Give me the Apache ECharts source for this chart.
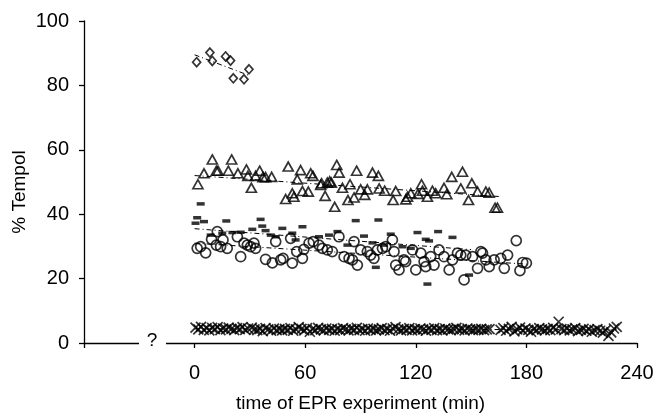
<!DOCTYPE html>
<html><head><meta charset="utf-8">
<script src="https://cdn.jsdelivr.net/npm/echarts@6/dist/echarts.min.js"></script>
<style>html,body{margin:0;padding:0;background:#fff}#c{width:655px;height:415px}</style>
</head><body><div id="c"></div>
<script>
const xTicks = [0, 60, 120, 180, 240];
const yTicks = [0, 20, 40, 60, 80, 100];
const xAxisTitle = 'time of EPR experiment (min)';
const yAxisTitle = '% Tempol';

const diamonds = [[1.1,87.2],[8.3,90.2],[9.6,87.6],[16.8,89.0],[19.5,87.7],[21,82.2],[26.8,81.9],[29.5,85.0]];

const triangles = [[1.8,49.3],[5.1,52.7],[9.6,57.0],[11.8,53.5],[12.7,53.5],[18.3,53.5],[20.1,57.0],[23.5,52.7],[28.1,53.9],[28.9,51.9],[30.8,48.2],[33.1,51.9],[35.3,53.5],[37.1,51.5],[38.5,51.5],[41.8,51.6],[49.4,44.7],[50.8,54.8],[53.0,46.5],[53.9,45.4],[55.7,50.8],[57.5,53.7],[58.5,47.2],[61.7,47.0],[63.0,52.7],[64.2,51.9],[68.4,49.1],[68.9,49.6],[70.8,45.7],[72.0,49.8],[73.3,50.2],[74.2,49.8],[76.0,42.3],[77.1,55.3],[78.4,52.9],[80.2,48.2],[83.2,44.4],[84.3,49.3],[86.5,45.2],[87.9,53.5],[90.1,47.7],[92.3,46.0],[93.7,47.7],[96.5,52.9],[99.7,51.9],[100.1,48.0],[103.1,47.3],[107.7,44.4],[109.1,47.2],[114.6,44.6],[115.5,45.4],[117.3,46.5],[121.2,46.3],[123.1,49.3],[123.6,47.3],[126.3,45.4],[129.0,47.3],[130.8,46.5],[135.3,48.2],[136.8,46.2],[139.5,51.6],[144.4,48.0],[145.3,53.2],[148.6,44.4],[150.4,49.6],[153.5,47.0],[158.0,47.0],[159.8,46.7],[163.0,42.0],[164.3,42.0]];

const circles = [[1.4,29.4],[3.3,29.9],[6.0,28.0],[9.2,32.2],[11.8,30.4],[12.3,34.6],[14.1,29.9],[15.4,32.0],[17.7,29.4],[23.2,33.0],[25.0,26.8],[26.8,31.0],[28.6,30.4],[30.4,29.9],[32.2,31.0],[33.1,29.4],[38.5,26.0],[42.2,24.9],[44.0,31.5],[46.7,25.8],[48.0,26.3],[52.1,32.5],[53.0,24.8],[55.4,28.4],[58.5,26.3],[59.3,29.1],[62.1,31.0],[64.4,31.5],[67.5,30.4],[69.3,29.4],[72.0,28.9],[74.7,28.4],[78.3,33.0],[81.1,26.8],[83.8,26.3],[85.6,25.8],[86.5,31.5],[88.3,24.2],[90.1,28.9],[93.7,28.4],[95.5,27.3],[97.3,26.3],[99.2,28.9],[101.9,29.4],[103.7,29.9],[107.3,32.0],[108.2,28.4],[109.1,24.2],[110.9,22.7],[113.6,25.8],[114.5,25.3],[118.2,28.9],[120.0,22.7],[122.7,27.9],[124.5,25.3],[125.4,23.7],[128.1,26.8],[129.9,24.2],[132.6,28.9],[135.3,26.8],[138.1,22.7],[139.9,25.8],[142.6,27.9],[144.4,27.3],[146.2,19.6],[147.1,27.3],[150.8,26.8],[153.5,23.2],[155.3,28.4],[156.2,27.9],[158.0,25.8],[159.8,23.7],[162.5,25.8],[166.1,26.3],[168.0,23.2],[169.8,27.3],[174.5,31.8],[176.5,22.5],[178.0,25.0],[180.0,24.8]];

const dashes = [[0.5,37.2],[1.4,38.9],[3.3,43.2],[5.1,37.7],[8.7,33.5],[15,34.1],[17.2,37.9],[20.5,34.3],[25,34.4],[31.3,35.3],[35.8,38.4],[36.7,36.3],[38.5,34.9],[41.3,33.5],[44,33.0],[47.6,35.6],[53,34.1],[54.8,32.0],[58.5,36.1],[67.5,33.0],[72.9,33.5],[77.5,34.6],[82.9,30.4],[87.4,38.0],[91.9,33.2],[96.5,31.1],[98.3,23.5],[99.7,38.2],[102.8,30.4],[106.4,33.8],[112.8,29.9],[117.3,29.4],[120.9,34.3],[125.4,32.2],[126.3,18.3],[127.2,31.7],[132.1,34.6],[139.9,32.8],[148.9,21.1]];

const crosses = [[0.5,4.8],[2,4.2],[3.5,5.0],[5,4.1],[6.5,4.6],[8,3.9],[9.5,4.7],[11,4.3],[12.5,4.9],[14,4.0],[15.5,4.5],[17,4.2],[18.5,4.8],[20,4.4],[21.5,4.0],[23,4.6],[24.5,4.3],[26,4.9],[27.5,4.1],[29,4.5],[31,4.8],[32.5,4.2],[34,4.0],[35.5,4.4],[37,3.7],[38.5,4.6],[40,4.2],[41.5,3.8],[43,4.5],[44.5,4.0],[46,4.3],[47.5,3.9],[49,4.4],[50.5,4.1],[52,4.6],[53.5,3.8],[55,4.2],[56.5,4.9],[58,4.4],[59.5,3.9],[61,4.6],[62.5,3.5],[64,4.3],[65.5,4.0],[67,4.7],[68.5,4.2],[70,3.9],[71.5,4.5],[73,4.1],[74.5,4.4],[76,3.8],[77.5,4.3],[79,4.0],[80.5,4.6],[82,4.2],[83.5,3.9],[85,4.4],[86.5,4.1],[88,4.7],[89.5,4.0],[91,4.3],[92.5,3.8],[94,4.5],[95.5,4.1],[97,4.4],[98.5,3.9],[100,4.2],[101.5,4.6],[103,4.0],[104.5,4.3],[106,3.8],[107.5,4.5],[109,4.9],[110.5,4.2],[112,3.9],[113.5,4.4],[115,4.1],[116.5,4.6],[118,3.9],[119.5,4.3],[121,4.0],[122.5,4.5],[124,4.2],[125.5,3.8],[127,4.4],[128.5,4.1],[130,4.6],[131.5,4.0],[133,4.3],[134.5,3.9],[136,4.5],[137.5,4.2],[139,4.0],[140.5,4.4],[142,4.7],[143.5,4.1],[145,4.3],[146.5,3.9],[148,4.5],[149.5,4.2],[151,4.0],[152.5,4.3],[154,4.1],[155.5,4.4],[157,4.0],[158.5,4.2],[160,4.3],[166,4.1],[167.5,4.6],[169,3.8],[170.5,4.4],[172,5.0],[173.5,3.6],[175,4.2],[176.5,4.8],[178,3.9],[179.5,4.5],[181,4.1],[182.5,3.5],[184,4.3],[185.5,4.0],[187,4.6],[188.5,4.2],[190,3.9],[191.5,4.4],[193,4.0],[194.5,4.7],[196,4.2],[197.5,6.6],[199,4.3],[200.5,4.0],[202,4.5],[203.5,3.9],[205,4.2],[206.5,4.6],[208,3.7],[209.5,4.1],[211,4.4],[212.5,3.8],[214,4.2],[215.5,3.5],[217,4.0],[218.5,4.3],[220,3.8],[221.5,3.2],[223,4.0],[224.5,2.2],[226,3.3],[227.5,4.5],[229,5.0]];

const trendDiamonds = [[0,89.5],[30,83]];
const trendTriangles = [[0,52],[165,45.5]];
const trendDashes = [[0,35.5],[150,29]];
const trendCircles = [[0,31],[180,24.5]];
const trendCrosses = [[0,4.4],[229,4.1]];

const chart = echarts.init(document.getElementById('c'), null, {renderer: 'canvas'});
const FONT = 'Liberation Sans, Arial, sans-serif';
const open = {color: 'rgba(0,0,0,0)', borderColor: '#000', borderWidth: 1.7};
function scatter(data, symbol, size, style, z) {
  return {type: 'scatter', data: data, symbol: symbol, symbolSize: size, itemStyle: style,
    emphasis: {disabled: true}, silent: true, animation: false, z: z};
}
function trend(data) {
  return {type: 'line', data: data, symbol: 'none', silent: true, animation: false, z: 1,
    lineStyle: {color: '#000', width: 1, type: [5, 3, 1, 3]}};
}
chart.setOption({
  animation: false,
  grid: {left: 84, right: 18, top: 21, bottom: 72, containLabel: false, outerBoundsMode: 'none'},
  xAxis: {
    type: 'value', min: -60, max: 240, interval: 60,
    axisLine: {show: true, onZero: false, lineStyle: {color: '#000', width: 1.3}},
    axisTick: {show: true, inside: false, length: 5, lineStyle: {color: '#000', width: 1.3}},
    axisLabel: {color: '#000', fontSize: 20, fontFamily: FONT, margin: 20,
      formatter: v => xTicks.indexOf(v) >= 0 ? String(v) : ''},
    splitLine: {show: false},
    name: xAxisTitle, nameLocation: 'middle', nameGap: 51,
    nameTextStyle: {color: '#000', fontSize: 19, fontFamily: FONT}
  },
  yAxis: {
    type: 'value', min: 0, max: 100, interval: 20,
    axisLine: {show: true, onZero: false, lineStyle: {color: '#000', width: 1.3}},
    axisTick: {show: true, inside: false, length: 5, lineStyle: {color: '#000', width: 1.3}},
    axisLabel: {color: '#000', fontSize: 20, fontFamily: FONT, margin: 15,
      formatter: v => yTicks.indexOf(v) >= 0 ? String(v) : ''},
    splitLine: {show: false}
  },
  graphic: [
    {type: 'rect', shape: {x: 139, y: 339, width: 27, height: 8}, style: {fill: '#fff'}, z: 100},
    {type: 'text', x: 152, y: 341, style: {text: '?', fontSize: 19, fontFamily: FONT, fill: '#000',
      textAlign: 'center', textVerticalAlign: 'middle'}, z: 101},
    {type: 'text', x: 20, y: 192, rotation: Math.PI / 2, style: {text: yAxisTitle, fontSize: 19, fontFamily: FONT,
      fill: '#000', textAlign: 'center', textVerticalAlign: 'middle'}, z: 101}
  ],
  series: [
    trend(trendDiamonds), trend(trendTriangles), trend(trendDashes), trend(trendCircles), trend(trendCrosses),
    scatter(crosses, 'path://M0,0L10,10M10,0L0,10', 10, {color: 'rgba(0,0,0,0)', borderColor: '#000', borderWidth: 1.7}, 3),
    scatter(circles, 'circle', 10, open, 4),
    scatter(dashes, 'rect', [8, 3.5], {color: '#000'}, 5),
    scatter(triangles, 'triangle', [10, 9], open, 6),
    scatter(diamonds, 'diamond', [8, 9], open, 7)
  ]
});
</script>
</body></html>
